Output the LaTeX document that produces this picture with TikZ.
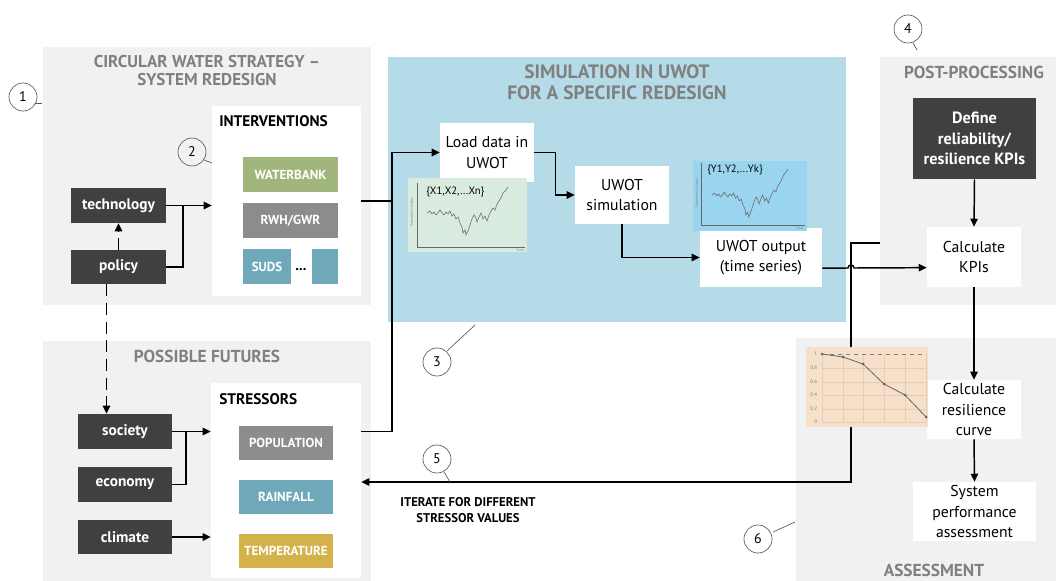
\documentclass[tikz,border=0pt]{standalone}
\usepackage{fontspec}
\setmainfont{PT Sans}
\usetikzlibrary{arrows.meta,calc}
\definecolor{panelgray}{RGB}{240,241,242}
\definecolor{simblue}{RGB}{180,219,231}
\definecolor{darkbox}{RGB}{64,64,64}
\definecolor{titlegray}{RGB}{128,128,128}
\definecolor{wbgreen}{RGB}{161,182,124}
\definecolor{midgray}{RGB}{140,140,140}
\definecolor{teal}{RGB}{111,169,185}
\definecolor{tempgold}{RGB}{212,178,74}
\definecolor{chgreen}{RGB}{217,234,223}
\definecolor{chblue}{RGB}{154,213,240}
\definecolor{chpeach}{RGB}{246,224,201}
\definecolor{peachgrid}{RGB}{230,204,178}
\tikzset{
  bx/.style n args={4}{minimum width={(#3-#1)*0.75pt}, minimum height={(#4-#2)*0.75pt}, at={({(#1+#3)/2},{(#2+#4)/2})}},
  conn/.style={line width=1.1pt, draw=black},
  arr/.style={conn, -{Triangle[length=6pt,width=5.5pt]}},
  dbox/.style={fill=darkbox, text=white, font=\bfseries\fontsize{11.5}{14}\selectfont, inner sep=0pt, align=center},
  wbox/.style={fill=white, inner sep=0pt, align=center, font=\fontsize{11.8}{15.5}\selectfont},
  cbox/.style={inner sep=0pt, text=white, font=\bfseries\fontsize{9.8}{11}\selectfont},
  ptitle/.style={text=titlegray, font=\bfseries\fontsize{13}{13.5}\selectfont, align=center},
  numc/.style={circle, draw=gray!70!black, line width=0.5pt, minimum size=21pt, inner sep=0pt, font=\fontsize{10.5}{12}\selectfont},
  tailline/.style={draw=gray!70!black, line width=0.5pt},
  hdr/.style={font=\bfseries\fontsize{11.5}{13}\selectfont, anchor=west, inner sep=0pt},
  chartlab/.style={font=\fontsize{3.8}{4}\selectfont, text=gray, inner sep=0.5pt},
  tinylab/.style={font=\fontsize{2.6}{3}\selectfont, text=gray, inner sep=0pt},
  wig/.style={draw=gray!85!black, line width=0.45pt},
}
\begin{document}
\begin{tikzpicture}[x=0.75pt,y=-0.75pt]
\useasboundingbox (0,0) rectangle (1056,581);
% panels
\fill[panelgray] (43,47) rectangle (371,305);
\fill[panelgray] (43,341) rectangle (371,581);
\fill[simblue] (388,57) rectangle (846,322);
\fill[panelgray] (880,57) rectangle (1056,305);
\fill[panelgray] (796,338) rectangle (1056,581);
% panel titles
\node[ptitle, font=\bfseries\fontsize{12.8}{13.5}\selectfont] (t1) at (207,71) {CIRCULAR WATER STRATEGY –\\SYSTEM REDESIGN};
\node[ptitle] (t2) at (207,356) {POSSIBLE FUTURES};
\node[ptitle, font=\bfseries\fontsize{14.5}{15.8}\selectfont] (t3) at (617,82) {SIMULATION IN UWOT\\FOR A SPECIFIC REDESIGN};
\node[ptitle] (t4) at (974,72) {POST-PROCESSING};
\node[ptitle] (t5) at (934,570) {ASSESSMENT};
% white containers
\node[wbox, bx={212}{106}{361}{296}] (interv) {};
\node[hdr] (intervh) at (219,121) {INTERVENTIONS};
\node[wbox, bx={211}{383}{361}{578}] (stress) {};
\node[hdr] (stressh) at (219,399) {STRESSORS};
% intervention items
\node[cbox, fill=wbgreen, bx={243}{157}{338}{192}] (wb) {WATERBANK};
\node[cbox, fill=midgray, bx={243}{203}{338}{238}] (rwh) {RWH/GWR};
\node[cbox, fill=teal, bx={243}{249}{291}{284}] (suds) {SUDS};
\node[cbox, fill=teal, bx={312}{249}{338}{284}] (more) {};
\node[font=\bfseries\fontsize{11}{12}\selectfont, inner sep=0pt] (dots) at (301,270) {...};
% stressor items
\node[cbox, fill=midgray, bx={239}{426}{333}{460}] (pop) {POPULATION};
\node[cbox, fill=teal, bx={239}{480}{333}{514}] (rain) {RAINFALL};
\node[cbox, fill=tempgold, bx={239}{534}{333}{568}] (temp) {TEMPERATURE};
% dark boxes
\node[dbox, bx={71}{188}{166}{223}] (tech) {technology};
\node[dbox, bx={71}{250}{166}{284}] (policy) {policy};
\node[dbox, bx={78}{414}{172}{449}] (society) {society};
\node[dbox, bx={78}{467}{172}{502}] (economy) {economy};
\node[dbox, bx={78}{520}{172}{554}] (climate) {climate};
\node[dbox, bx={913}{98}{1036}{179}, font=\bfseries\fontsize{12.2}{15.5}\selectfont] (define) {Define\\reliability/\\resilience KPIs};
% white process boxes
\node[wbox, bx={440}{123}{534}{182}] (load) {Load data in\\UWOT};
\node[wbox, bx={575}{166}{669}{224}] (sim) {UWOT\\simulation};
\node[wbox, bx={700}{228}{822}{287}] (out) {UWOT output\\(time series)};
\node[wbox, bx={927}{227}{1021}{287}] (kpi) {Calculate\\KPIs};
\node[wbox, bx={927}{380}{1021}{439}] (res) {Calculate\\resilience\\curve};
\node[wbox, bx={913}{482}{1036}{541}] (sys) {System\\performance\\assessment};
% connectors left
\draw[arr] (tech.east) -- (tech.east -| interv.west);
\coordinate (j1) at (183,205.5);
\draw[conn] (policy.east) -| (j1);
\draw[arr, dash pattern=on 9pt off 5pt] (policy.north) -- (tech.south);
\draw[arr, dash pattern=on 9pt off 5pt] ([xshift=-9pt]policy.south) -- ([xshift=-9pt]policy.south |- society.north);
\draw[arr] (society.east) -- (society.east -| stress.west);
\coordinate (j2) at (186,431.5);
\draw[conn] (economy.east) -| (j2);
\draw[arr] (climate.east) -- (climate.east -| stress.west);
% trunk to UWOT
\coordinate (tb) at (392,431.5);
\draw[conn] (interv.east) -- (interv.east -| tb);
\draw[arr] (stress.east |- tb) -- (tb) |- (load.west);
\draw[arr] (load.east) -- ++(21,0) |- (sim.west);
\draw[arr] (sim.south) |- (out.west);
% output to KPIs with hop
\coordinate (hopa) at (848,268);
\draw[arr] ([yshift=-8pt]out.east) -- (hopa) arc[start angle=180, end angle=0, radius=2.25pt] -- ([yshift=-8pt]kpi.west);
% feedback loop
\coordinate (fb1) at (880,243);
\coordinate (fb2) at (851,482);
\draw[arr] (fb1) -| (fb2) -- (fb2 -| stress.east);
% right column
\draw[arr] (define.south) -- (kpi.north);
\draw[arr] (kpi.south) -- (res.north);
\draw[arr] (res.south) -- (sys.north);
% iterate label
\node[font=\bfseries\fontsize{9.5}{11.5}\selectfont, align=center] (iter) at (468,510) {ITERATE FOR DIFFERENT\\STRESSOR VALUES};
% green chart
\node[fill=chgreen, inner sep=0pt, bx={408}{178}{527}{252}] (gch) {};
\draw[draw=gray!80!black, line width=0.5pt] (417,183) -- (417,247) -- (525,247);
\node[tinylab, rotate=90] (gdv) at (412,212) {Dependent Variable};
\node[tinylab] (gtime) at (520,250) {Time};
\node[font=\fontsize{8}{9}\selectfont, anchor=west, inner sep=0pt] (gx) at (426,192) {\{X1,X2,...Xn\}};
\begin{scope}[shift={(427,213)}]
\draw[wig] plot coordinates {(0,0) (3,-2) (5,1) (7,-1) (9,2) (11,0) (13,-3) (15,0) (17,2) (19,-1) (21,1) (23,-2) (25,3) (27,1) (29,6) (31,4) (33,10) (35,14) (36,20) (38,17) (39,22) (41,18) (43,12) (45,6) (47,2) (49,5) (50,9) (52,4) (54,0) (56,6) (58,3) (60,8) (62,2) (64,-2) (66,-5) (68,-3) (70,-9) (72,-12) (74,-15) (76,-20) (78,-22) (81,-26)};
\end{scope}
% blue chart
\node[fill=chblue, inner sep=0pt, bx={693}{161}{807}{231}] (bch) {};
\draw[draw=gray!80!black, line width=0.5pt] (701,163) -- (701,225) -- (805,225);
\node[tinylab, rotate=90] (bdv) at (697,193) {Dependent Variable};
\node[tinylab] (btime) at (800,228) {Time};
\node[font=\fontsize{8}{9}\selectfont, anchor=west, inner sep=0pt] (by) at (707,170) {\{Y1,Y2,...Yk\}};
\begin{scope}[shift={(712,195)}, xscale=0.94]
\draw[wig] plot coordinates {(0,0) (3,-2) (5,1) (7,-1) (9,2) (11,0) (13,-3) (15,0) (17,2) (19,-1) (21,1) (23,-2) (25,3) (27,1) (29,6) (31,4) (33,10) (35,14) (36,20) (38,17) (39,22) (41,18) (43,12) (45,6) (47,2) (49,5) (50,9) (52,4) (54,0) (56,6) (58,3) (60,8) (62,2) (64,-2) (66,-5) (68,-3) (70,-9) (72,-12) (74,-15) (76,-20) (78,-22) (81,-26)};
\end{scope}
% peach resilience chart
\node[fill=chpeach, inner sep=0pt, bx={806}{347}{928}{427}] (pch) {};
\foreach \xv in {822,843,863,884,905,926} \draw[peachgrid, line width=0.4pt] (\xv,354) -- (\xv,422);
\foreach \yv in {368,382,395,409,422} \draw[peachgrid, line width=0.4pt] (822,\yv) -- (926,\yv);
\draw[gray, dashed, line width=0.4pt] (822,354) -- (926,354);
\foreach \yv/\lab in {354/1,368/0.8,382/0.6,395/0.4,409/0.2,422/0} \node[chartlab, anchor=east] at (818,\yv) {\lab};
\draw[gray!80!black, line width=0.6pt] plot[mark=*, mark size=0.7pt] coordinates {(822,354) (843,357) (863,364) (884,384) (905,395) (926,417)};
% numbered circles
\node[numc] (c1) at (23,97) {1};
\draw[tailline] (35,103) -- (42,103);
\node[numc] (c2) at (192,152) {2};
\draw[tailline] (204,160) -- (212,163);
\node[numc] (c3) at (437,362) {3};
\draw[tailline] (447,351) -- (475,325);
\node[numc] (c4) at (908,29) {4};
\draw[tailline] (913,43) -- (917,50);
\node[numc] (c5) at (437,459) {5};
\draw[tailline] (444,472) -- (450,482);
\node[numc] (c6) at (758,539) {6};
\draw[tailline] (773,532) -- (795,522);
\end{tikzpicture}
\end{document}
